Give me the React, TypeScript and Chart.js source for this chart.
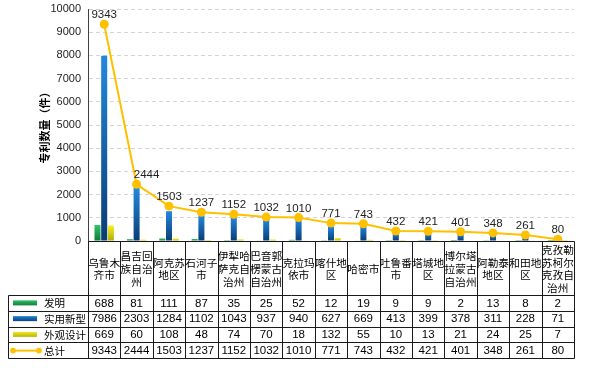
import { useEffect, useRef } from "react";
import { Chart, registerables } from "chart.js";

Chart.register(...registerables);

const categoryLines: string[][] = [
  ["乌鲁木", "齐市"],
  ["昌吉回", "族自治", "州"],
  ["阿克苏", "地区"],
  ["石河子", "市"],
  ["伊犁哈", "萨克自", "治州"],
  ["巴音郭", "楞蒙古", "自治州"],
  ["克拉玛", "依市"],
  ["喀什地", "区"],
  ["哈密市"],
  ["吐鲁番", "市"],
  ["塔城地", "区"],
  ["博尔塔", "拉蒙古", "自治州"],
  ["阿勒泰", "地区"],
  ["和田地", "区"],
  ["克孜勒", "苏柯尔", "克孜自", "治州"],
];
const categories = categoryLines.map((l) => l.join(""));

const inventions = [688, 81, 111, 87, 35, 25, 52, 12, 19, 9, 9, 2, 13, 8, 2];
const utilityModels = [7986, 2303, 1284, 1102, 1043, 937, 940, 627, 669, 413, 399, 378, 311, 228, 71];
const designs = [669, 60, 108, 48, 74, 70, 18, 132, 55, 10, 13, 21, 24, 25, 7];
const totals = [9343, 2444, 1503, 1237, 1152, 1032, 1010, 771, 743, 432, 421, 401, 348, 261, 80];

const seriesNames = ["发明", "实用新型", "外观设计", "总计"];
const yAxisTitle = "专利数量（件）";
const yMax = 10000;
const yStep = 1000;

const FONT = '"Liberation Sans", "Noto Sans CJK SC", sans-serif';
const CJK = '"Noto Sans CJK SC", "Liberation Sans", sans-serif';

const barColors = [
  ["#34c466", "#0c7a3a"],
  ["#2288e0", "#0a3d73"],
  ["#f4f02c", "#b4ac00"],
];
const lineColor = "#FFC000";

function barGradient(idx: number) {
  return (c: any) => {
    const chart = c.chart;
    const ys = chart.scales?.y;
    if (!ys || c.type !== "data" || !c.parsed) return barColors[idx][0];
    const top = ys.getPixelForValue(c.parsed.y);
    const bottom = ys.getPixelForValue(0);
    if (!isFinite(top) || !isFinite(bottom) || bottom - top < 1) return barColors[idx][1];
    const g = chart.ctx.createLinearGradient(0, top, 0, bottom);
    g.addColorStop(0, barColors[idx][0]);
    g.addColorStop(1, barColors[idx][1]);
    return g;
  };
}

const pointLabelPlugin = {
  id: "pointLabels",
  afterDatasetsDraw(chart: any) {
    const ctx = chart.ctx;
    const meta = chart.getDatasetMeta(3);
    ctx.save();
    ctx.font = `11.5px ${FONT}`;
    ctx.fillStyle = "#222";
    ctx.textAlign = "center";
    ctx.textBaseline = "middle";
    meta.data.forEach((pt: any, i: number) => {
      const dx = i === 1 ? 10 : 0;
      ctx.fillText(String(totals[i]), pt.x + dx, pt.y - 9);
    });
    ctx.restore();
  },
};

const tablePlugin = {
  id: "dataTable",
  afterDraw(chart: any) {
    const ctx = chart.ctx;
    const xs = chart.scales.x;
    const area = chart.chartArea;
    const n = categories.length;
    const top = area.bottom;
    const catBottom = top + 54;
    const rowH = 15.75;
    const tableLeft = 8;
    const rows = 4;
    const bottom = catBottom + rows * rowH;
    const right = xs.getPixelForValue(n - 0.5);
    const px = (v: number) => Math.round(v) + 0.5;

    ctx.save();
    ctx.strokeStyle = "#1a1a1a";
    ctx.lineWidth = 1;
    ctx.beginPath();
    ctx.moveTo(px(area.left), px(top));
    ctx.lineTo(px(right), px(top));
    for (let r = 0; r <= rows; r++) {
      const y = px(catBottom + r * rowH);
      ctx.moveTo(px(tableLeft), y);
      ctx.lineTo(px(right), y);
    }
    for (let i = 0; i <= n; i++) {
      const x = px(xs.getPixelForValue(i - 0.5));
      ctx.moveTo(x, px(top));
      ctx.lineTo(x, px(bottom));
    }
    ctx.moveTo(px(tableLeft), px(catBottom));
    ctx.lineTo(px(tableLeft), px(bottom));
    ctx.stroke();

    // category labels
    ctx.fillStyle = "#000";
    ctx.textAlign = "center";
    ctx.textBaseline = "middle";
    ctx.font = `10.7px ${CJK}`;
    const lh = 12.6;
    const catMid = (top + catBottom) / 2 + 1;
    categoryLines.forEach((lines, i) => {
      const cx = xs.getPixelForValue(i);
      const startY = catMid - ((lines.length - 1) * lh) / 2;
      lines.forEach((t, k) => ctx.fillText(t, cx, startY + k * lh));
    });

    // rows
    const rowData = [inventions, utilityModels, designs, totals];
    ctx.font = `11.5px ${FONT}`;
    rowData.forEach((arr, r) => {
      const cy = catBottom + (r + 0.5) * rowH + 0.5;
      arr.forEach((v, i) => {
        ctx.fillText(String(v), xs.getPixelForValue(i), cy);
      });
    });

    // legend column
    ctx.textAlign = "left";
    ctx.font = `10.5px ${CJK}`;
    seriesNames.forEach((name, r) => {
      const cy = catBottom + (r + 0.5) * rowH;
      if (r < 3) {
        const g = ctx.createLinearGradient(0, cy - 3, 0, cy + 3);
        g.addColorStop(0, barColors[r][0]);
        g.addColorStop(1, barColors[r][1]);
        ctx.fillStyle = g;
        ctx.fillRect(13, cy - 2.5, 24, 5);
      } else {
        ctx.strokeStyle = lineColor;
        ctx.lineWidth = 2;
        ctx.beginPath();
        ctx.moveTo(13, cy + 0.5);
        ctx.lineTo(39, cy + 0.5);
        ctx.stroke();
        ctx.fillStyle = lineColor;
        [13, 39].forEach((x) => {
          ctx.beginPath();
          ctx.arc(x, cy + 0.5, 2.8, 0, Math.PI * 2);
          ctx.fill();
        });
      }
      ctx.fillStyle = "#000";
      ctx.fillText(name, 44, cy + 0.5);
    });
    ctx.restore();
  },
};

export default function App() {
  const ref = useRef<HTMLCanvasElement | null>(null);
  useEffect(() => {
    if (!ref.current) return;
    const chart = new Chart(ref.current, {
      type: "bar",
      data: {
        labels: categories,
        datasets: [
          {
            type: "bar",
            label: seriesNames[0],
            data: inventions,
            backgroundColor: barGradient(0),
            categoryPercentage: 0.62,
            barPercentage: 0.9,
            order: 2,
          },
          {
            type: "bar",
            label: seriesNames[1],
            data: utilityModels,
            backgroundColor: barGradient(1),
            categoryPercentage: 0.62,
            barPercentage: 0.9,
            order: 2,
          },
          {
            type: "bar",
            label: seriesNames[2],
            data: designs,
            backgroundColor: barGradient(2),
            categoryPercentage: 0.62,
            barPercentage: 0.9,
            order: 2,
          },
          {
            type: "line",
            label: seriesNames[3],
            data: totals,
            borderColor: lineColor,
            backgroundColor: lineColor,
            borderWidth: 2,
            pointRadius: 3.5,
            pointBackgroundColor: lineColor,
            pointBorderColor: lineColor,
            tension: 0,
            order: 0,
          },
        ],
      },
      options: {
        animation: false,
        responsive: false,
        maintainAspectRatio: false,
        layout: { padding: { top: 9, right: 16, bottom: 127, left: 38 } },
        plugins: {
          legend: { display: false },
          tooltip: { enabled: false },
        },
        scales: {
          x: { display: false },
          y: {
            min: 0,
            max: yMax,
            afterFit: (s: any) => {
              s.width = 50;
              s.paddingTop = 0;
              s.paddingBottom = 0;
            },
            ticks: {
              stepSize: yStep,
              padding: 7,
              color: "#222",
              font: { family: FONT, size: 11 },
              callback: (v: any) => String(v),
            },
            grid: {
              color: "#d4d4d4",
              drawTicks: false,
              lineWidth: 1,
            },
            border: { display: true, color: "#404040", width: 1, dash: [4, 3] },
            title: {
              display: true,
              text: yAxisTitle,
              color: "#000",
              font: { family: CJK, size: 11, weight: "bold" },
              padding: { top: 0, bottom: 0 },
            },
          },
        },
      },
      plugins: [pointLabelPlugin, tablePlugin],
    } as any);
    return () => chart.destroy();
  }, []);
  return (
    <div style={{ position: "absolute", left: 0, top: 0, width: 590, height: 368 }}>
      <canvas ref={ref} width={590} height={368} style={{ display: "block" }} />
    </div>
  );
}
